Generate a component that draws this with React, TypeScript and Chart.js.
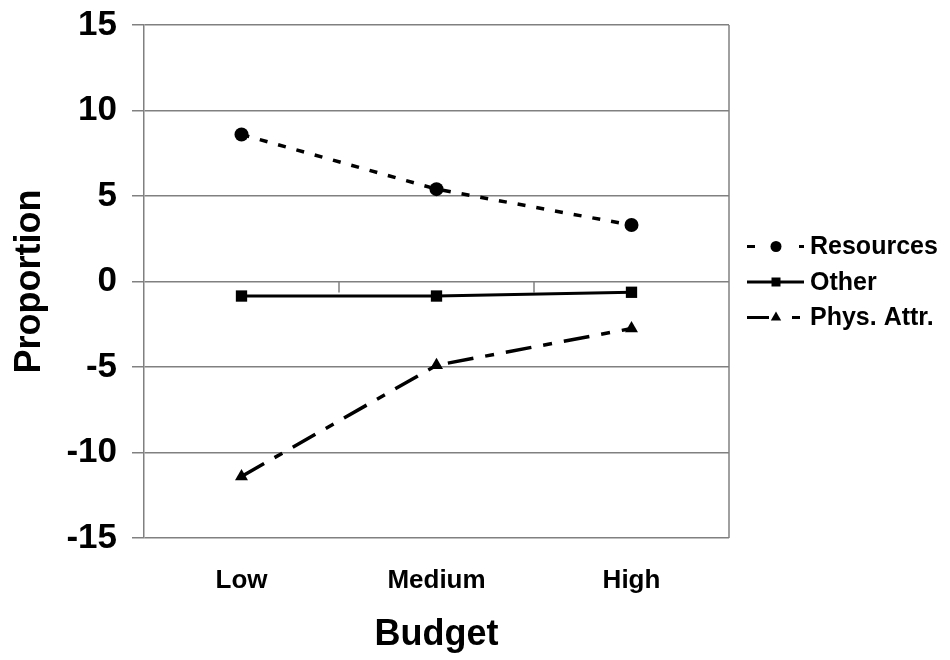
import React, { useEffect, useRef } from "react";
import { Chart, registerables } from "chart.js";

Chart.register(...registerables);

const categories = ["Low", "Medium", "High"];
const resources = [8.6, 5.4, 3.3];
const other = [-0.85, -0.85, -0.63];
const physAttr = [-11.4, -4.9, -2.75];
const yMin = -15;
const yMax = 15;
const yStep = 5;
const seriesNames = ["Resources", "Other", "Phys. Attr."];

const FONT = "'Liberation Sans', Arial, Helvetica, sans-serif";
const GRID = "#808080";

const frameAndTicks = {
  id: "frameAndTicks",
  beforeDatasetsDraw(chart: any) {
    const { ctx, chartArea } = chart;
    const x = chart.scales.x;
    const y = chart.scales.y;
    ctx.save();
    ctx.strokeStyle = GRID;
    ctx.lineWidth = 1.5;
    ctx.beginPath();
    ctx.moveTo(chartArea.right, chartArea.top);
    ctx.lineTo(chartArea.right, chartArea.bottom);
    ctx.stroke();
    const y0 = y.getPixelForValue(0);
    for (let i = 1; i < categories.length; i++) {
      const px = (x.getPixelForValue(i - 1) + x.getPixelForValue(i)) / 2;
      ctx.beginPath();
      ctx.moveTo(px, y0);
      ctx.lineTo(px, y0 + 11);
      ctx.stroke();
    }
    ctx.restore();
  },
};

const legendDashes: number[][] = [[8, 44], [], [22, 23, 8]];

const customLegend = {
  id: "customLegend",
  afterDraw(chart: any) {
    const { ctx } = chart;
    const x1 = 747;
    const x2 = 804;
    const xm = 776;
    const tx = 810;
    const y0 = 246.5;
    const dy = 35.5;
    chart.data.datasets.forEach((ds: any, i: number) => {
      const yy = y0 + i * dy;
      ctx.save();
      ctx.strokeStyle = "#000";
      ctx.lineWidth = 3;
      ctx.setLineDash(legendDashes[i] || []);
      ctx.beginPath();
      ctx.moveTo(x1, yy);
      ctx.lineTo(x2, yy);
      ctx.stroke();
      ctx.setLineDash([]);
      ctx.fillStyle = "#000";
      ctx.beginPath();
      if (ds.pointStyle === "circle") {
        ctx.arc(xm, yy, 5.5, 0, Math.PI * 2);
      } else if (ds.pointStyle === "rect") {
        ctx.rect(xm - 4.5, yy - 4.5, 9, 9);
      } else {
        const r = 6;
        ctx.moveTo(xm, yy - r);
        ctx.lineTo(xm + r * 0.866, yy + r * 0.5);
        ctx.lineTo(xm - r * 0.866, yy + r * 0.5);
        ctx.closePath();
      }
      ctx.fill();
      ctx.font = `bold 25px ${FONT}`;
      ctx.textAlign = "left";
      ctx.textBaseline = "middle";
      ctx.fillText(ds.label, tx, yy + 1);
      ctx.restore();
    });
  },
};

export default function App() {
  const ref = useRef<HTMLCanvasElement | null>(null);

  useEffect(() => {
    if (!ref.current) return;
    const chart = new Chart(ref.current, {
      type: "line",
      data: {
        labels: categories,
        datasets: [
          {
            label: seriesNames[0],
            data: resources,
            borderColor: "#000",
            backgroundColor: "#000",
            borderWidth: 3.5,
            borderDash: [8, 11],
            pointStyle: "circle",
            pointRadius: 7,
            pointBorderWidth: 0,
            tension: 0,
          },
          {
            label: seriesNames[1],
            data: other,
            borderColor: "#000",
            backgroundColor: "#000",
            borderWidth: 3,
            pointStyle: "rect",
            pointRadius: 8,
            pointBorderWidth: 0,
            tension: 0,
          },
          {
            label: seriesNames[2],
            data: physAttr,
            borderColor: "#000",
            backgroundColor: "#000",
            borderWidth: 3.5,
            borderDash: [26, 12, 9, 12],
            pointStyle: "triangle",
            pointRadius: 7.5,
            pointBorderWidth: 0,
            tension: 0,
          },
        ],
      },
      options: {
        responsive: false,
        animation: false,
        devicePixelRatio: 1,
        layout: { padding: { left: 0, right: 221, top: 25, bottom: 0 } },
        plugins: {
          legend: { display: false },
          tooltip: { enabled: false },
        },
        scales: {
          x: {
            type: "category",
            offset: true,
            grid: { display: false, drawTicks: false },
            border: { display: false },
            ticks: {
              color: "#000",
              font: { family: FONT, size: 26, weight: "bold" },
              padding: 27,
            },
            title: {
              display: true,
              text: "Budget",
              color: "#000",
              font: { family: FONT, size: 36, weight: "bold" },
              padding: { top: 0, bottom: 3 },
            },
            afterFit(scale: any) {
              scale.height = 122;
            },
          },
          y: {
            min: yMin,
            max: yMax,
            ticks: {
              stepSize: yStep,
              color: "#000",
              font: { family: FONT, size: 35, weight: "bold" },
              padding: 15,
            },
            grid: {
              color: GRID,
              lineWidth: 1.5,
              tickLength: 12,
              drawTicks: true,
            },
            border: { display: true, color: GRID, width: 1.5 },
            title: {
              display: true,
              text: "Proportion",
              color: "#000",
              font: { family: FONT, size: 36, weight: "bold" },
              padding: { top: 8, bottom: 0 },
            },
            afterFit(scale: any) {
              scale.width = 144;
              scale.paddingTop = 0;
              scale.paddingBottom = 0;
            },
          },
        },
      },
      plugins: [frameAndTicks, customLegend],
    });
    return () => chart.destroy();
  }, []);

  return (
    <div style={{ position: "fixed", left: 0, top: 0, width: 950, height: 660, background: "#fff" }}>
      <canvas ref={ref} width={950} height={660} style={{ display: "block" }} />
    </div>
  );
}
